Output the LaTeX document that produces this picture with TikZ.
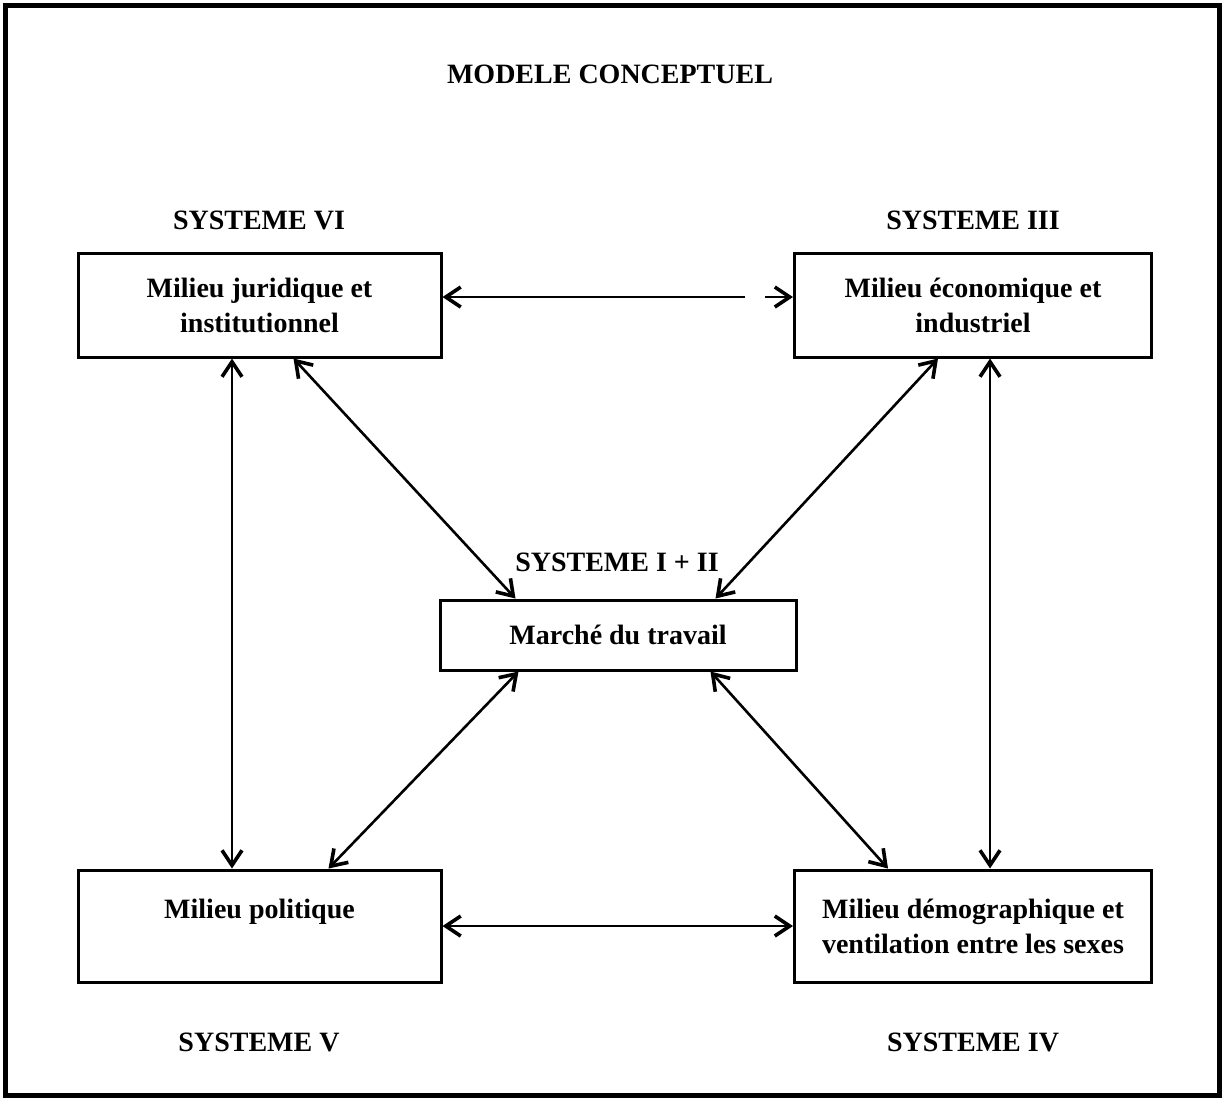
\documentclass[tikz,border=0pt]{standalone}
\usepackage{fontspec}
\setmainfont{Liberation Serif}
\usetikzlibrary{arrows.meta,calc}
\begin{document}
\begin{tikzpicture}[x=0.5pt,y=-0.5pt,
  box/.style={draw,line width=1.5pt,inner sep=0pt,align=center,
    font=\bfseries\fontsize{14}{17.5}\selectfont},
  lbl/.style={inner sep=0pt,font=\bfseries\fontsize{14}{17}\selectfont},
  arr/.style={line width=1.3pt,{Straight Barb[length=7.5pt,width=10pt,line width=1.8pt]}-{Straight Barb[length=7.5pt,width=10pt,line width=1.8pt]}},
  arrl/.style={line width=1.3pt,{Straight Barb[length=7.5pt,width=10pt,line width=1.8pt]}-},
  arrr/.style={line width=1.3pt,-{Straight Barb[length=7.5pt,width=10pt,line width=1.8pt]}},
]
\useasboundingbox (0,0) rectangle (1224,1100);
\draw[line width=2.5pt] (5,5) rectangle (1219,1095);

\node[lbl] (title) at (610,74) {MODELE CONCEPTUEL};

\node[lbl] (s6) at (259,220) {SYSTEME VI};
\node[lbl] (s3) at (973,220) {SYSTEME III};
\node[lbl] (s12) at (617,562) {SYSTEME I + II};
\node[lbl] (s5) at (259,1042) {SYSTEME V};
\node[lbl] (s4) at (973,1042) {SYSTEME IV};

\node[box,minimum width=181.5pt,minimum height=52pt] (vi) at (259.5,305) {Milieu juridique et\\institutionnel};
\node[box,minimum width=178.5pt,minimum height=52pt] (iii) at (973,305) {Milieu économique et\\industriel};
\node[box,minimum width=178pt,minimum height=35pt] (m) at (618,635) {Marché du travail};
\node[box,minimum width=181.5pt,minimum height=56pt] (v) at (259.5,926) {Milieu politique\\\mbox{}};
\node[box,minimum width=178.5pt,minimum height=56pt] (iv) at (973,926) {Milieu démographique et\\ventilation entre les sexes};

% coordinates for connector positions
\coordinate (xl) at (232,0);
\coordinate (xr) at (990,0);
\coordinate (gl) at (745,297);
\coordinate (gr) at (765,297);

% top horizontal (with a gap)
\draw[arrl] (vi.east |- gl) -- (gl);
\draw[arrr] (gr) -- (iii.west |- gr);
% bottom horizontal
\draw[arr] (v.east) -- (iv.west);
% verticals
\draw[arr] (vi.south -| xl) -- (v.north -| xl);
\draw[arr] (iii.south -| xr) -- (iv.north -| xr);
% diagonals
\draw[arr] ($(vi.south west)+(217,0)$) -- ($(m.north west)+(77,0)$);
\draw[arr] ($(iii.south west)+(145,0)$) -- ($(m.north west)+(277,0)$);
\draw[arr] ($(m.south west)+(80,0)$) -- ($(v.north west)+(252,0)$);
\draw[arr] ($(m.south west)+(272,0)$) -- ($(iv.north west)+(95,0)$);
\end{tikzpicture}
\end{document}
